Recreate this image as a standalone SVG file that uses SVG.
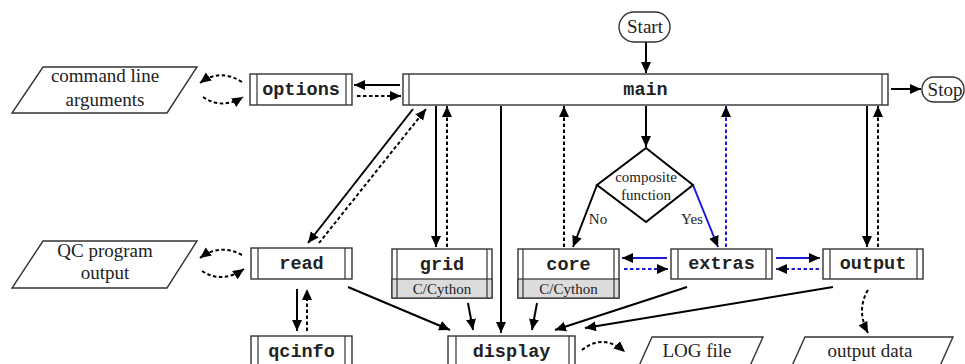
<svg xmlns="http://www.w3.org/2000/svg" width="965" height="364" viewBox="0 0 965 364">
<style>
.box{fill:#fff;stroke:#333;stroke-width:1.4}
.in{stroke:#333;stroke-width:1.2;fill:none}
.gray{fill:#dcdcdc;stroke:#333;stroke-width:1.2}
.mod{font-family:"Liberation Mono","DejaVu Sans Mono",monospace;font-weight:bold;font-size:18.5px;fill:#222;text-anchor:middle}
.ser{font-family:"Liberation Serif","DejaVu Serif",serif;font-size:19px;fill:#222;text-anchor:middle}
.sm{font-family:"Liberation Serif","DejaVu Serif",serif;font-size:15px;fill:#222;text-anchor:middle}
.s{stroke:#000;stroke-width:2;fill:none}
.d{stroke:#000;stroke-width:2;fill:none;stroke-dasharray:3.5 2.5}
.bs{stroke:#1a1ad6;stroke-width:2;fill:none}
.bd{stroke:#1a1ad6;stroke-width:2;fill:none;stroke-dasharray:3.5 2.5}
</style>
<defs>
<marker id="a" markerUnits="userSpaceOnUse" markerWidth="12" markerHeight="11" refX="11" refY="5" orient="auto"><path d="M0,0 L11,5 L0,10 z" fill="#000"/></marker>
<marker id="ab" markerUnits="userSpaceOnUse" markerWidth="12" markerHeight="11" refX="11" refY="5" orient="auto"><path d="M0,0 L11,5 L0,10 z" fill="#000"/></marker>
</defs>

<g id="connectors">
<path class="s" d="M646,42 L646,73" marker-end="url(#a)"/>
<path class="s" d="M891,89 L921,89" marker-end="url(#a)"/>
<path class="s" d="M400,85 L354,85" marker-end="url(#a)"/>
<path class="d" d="M357,96 L401,96" marker-end="url(#a)"/>
<path class="d" d="M242,82 Q220,68 200,83" marker-end="url(#a)"/>
<path class="d" d="M203,97 Q222,110 243,97" marker-end="url(#a)"/>
<path class="d" d="M242,255 Q220,243 200,258" marker-end="url(#a)"/>
<path class="d" d="M202,271 Q222,284 244,269" marker-end="url(#a)"/>
<path class="s" d="M413,109 L308,243" marker-end="url(#a)"/>
<path class="d" d="M319,243 L426,109" marker-end="url(#a)"/>
<path class="s" d="M436,106 L436,247" marker-end="url(#a)"/>
<path class="d" d="M447,247 L447,106" marker-end="url(#a)"/>
<path class="s" d="M501,106 L501,333" marker-end="url(#a)"/>
<path class="d" d="M564,247 L564,106" marker-end="url(#a)"/>
<path class="s" d="M646,106 L646,147" marker-end="url(#a)"/>
<path class="s" d="M597,185 L573,247" marker-end="url(#a)"/>
<path class="bs" d="M693,185 L718,247" marker-end="url(#ab)"/>
<path class="bd" d="M726,247 L726,106" marker-end="url(#ab)"/>
<path class="s" d="M867,106 L867,247" marker-end="url(#a)"/>
<path class="d" d="M878,247 L878,106" marker-end="url(#a)"/>
<path class="bs" d="M667,258 L622,258" marker-end="url(#ab)"/>
<path class="bd" d="M624,269 L668,269" marker-end="url(#ab)"/>
<path class="bs" d="M776,258 L820,258" marker-end="url(#ab)"/>
<path class="bd" d="M819,269 L776,269" marker-end="url(#ab)"/>
<path class="s" d="M297,289 L297,331" marker-end="url(#a)"/>
<path class="d" d="M307,331 L307,289" marker-end="url(#a)"/>
<path class="s" d="M348,287 L450,330" marker-end="url(#a)"/>
<path class="s" d="M468,303 L473,330" marker-end="url(#a)"/>
<path class="s" d="M537,303 L532,330" marker-end="url(#a)"/>
<path class="s" d="M687,287 L555,330" marker-end="url(#a)"/>
<path class="s" d="M833,287 L585,328" marker-end="url(#a)"/>
<path class="d" d="M582,350 Q603,333 625,352" marker-end="url(#a)"/>
<path class="d" d="M868,290 Q856,310 868,333" marker-end="url(#a)"/>
</g>

<g id="start">
<rect class="box" x="619" y="12" width="51" height="30" rx="15"/>
<text class="ser" x="645" y="33">Start</text>
</g>

<g id="stop">
<rect class="box" x="922" y="77" width="42" height="25" rx="12"/>
<text class="ser" x="945" y="96">Stop</text>
</g>

<g id="main">
<rect class="box" x="403" y="74" width="485" height="31"/>
<line class="in" x1="409" y1="74" x2="409" y2="105"/>
<line class="in" x1="882" y1="74" x2="882" y2="105"/>
<text class="mod" x="645.5" y="95">main</text>
</g>

<g id="options">
<rect class="box" x="250" y="74" width="102" height="31"/>
<line class="in" x1="257" y1="74" x2="257" y2="105"/>
<line class="in" x1="346" y1="74" x2="346" y2="105"/>
<text class="mod" x="301" y="95">options</text>
</g>

<g id="cmdargs">
<polygon class="box" points="43,67 197,67 167,113 12,113"/>
<text class="ser" x="105" y="82">command line</text>
<text class="ser" x="105" y="106">arguments</text>
</g>

<g id="qcoutput">
<polygon class="box" points="43,241 197,241 167,288 12,288"/>
<text class="ser" x="105" y="257">QC program</text>
<text class="ser" x="105" y="279">output</text>
</g>

<g id="read">
<rect class="box" x="251" y="248" width="101" height="31"/>
<line class="in" x1="258" y1="248" x2="258" y2="279"/>
<line class="in" x1="345" y1="248" x2="345" y2="279"/>
<text class="mod" x="301.5" y="269">read</text>
</g>

<g id="qcinfo">
<rect class="box" x="251" y="336" width="101" height="34"/>
<line class="in" x1="258" y1="336" x2="258" y2="370"/>
<line class="in" x1="345" y1="336" x2="345" y2="370"/>
<text class="mod" x="301.5" y="357">qcinfo</text>
</g>

<g id="grid">
<rect class="box" x="392" y="249" width="100" height="49"/>
<rect class="gray" x="392" y="279" width="100" height="19"/>
<line class="in" x1="397" y1="249" x2="397" y2="298"/>
<line class="in" x1="487" y1="249" x2="487" y2="298"/>
<text class="mod" x="442" y="270">grid</text>
<text class="sm" x="442" y="294">C/Cython</text>
</g>

<g id="core">
<rect class="box" x="518" y="249" width="101" height="49"/>
<rect class="gray" x="518" y="279" width="101" height="19"/>
<line class="in" x1="523" y1="249" x2="523" y2="298"/>
<line class="in" x1="614" y1="249" x2="614" y2="298"/>
<text class="mod" x="568.5" y="270">core</text>
<text class="sm" x="568.5" y="294">C/Cython</text>
</g>

<g id="decision">
<polygon class="box" style="stroke:#000;stroke-width:2" points="646,148 693,185 646,222 597,185"/>
<text class="sm" x="646" y="182">composite</text>
<text class="sm" x="646" y="200">function</text>
<text class="sm" x="598" y="224">No</text>
<text class="sm" x="692" y="224">Yes</text>
</g>

<g id="extras">
<rect class="box" x="671" y="249" width="101" height="30"/>
<line class="in" x1="678" y1="249" x2="678" y2="279"/>
<line class="in" x1="766" y1="249" x2="766" y2="279"/>
<text class="mod" x="721.5" y="269">extras</text>
</g>

<g id="output">
<rect class="box" x="823" y="249" width="100" height="30"/>
<line class="in" x1="830" y1="249" x2="830" y2="279"/>
<line class="in" x1="917" y1="249" x2="917" y2="279"/>
<text class="mod" x="873" y="269">output</text>
</g>

<g id="display">
<rect class="box" x="448" y="336" width="127" height="34"/>
<line class="in" x1="456" y1="336" x2="456" y2="370"/>
<line class="in" x1="569" y1="336" x2="569" y2="370"/>
<text class="mod" x="511.5" y="357">display</text>
</g>

<g id="logfile">
<polygon class="box" points="652,337 763,337 740,388 629,388"/>
<text class="ser" x="697" y="357">LOG file</text>
</g>

<g id="outputdata">
<polygon class="box" points="805,337 953,337 930,388 782,388"/>
<text class="ser" x="870" y="357">output data</text>
</g>
</svg>
